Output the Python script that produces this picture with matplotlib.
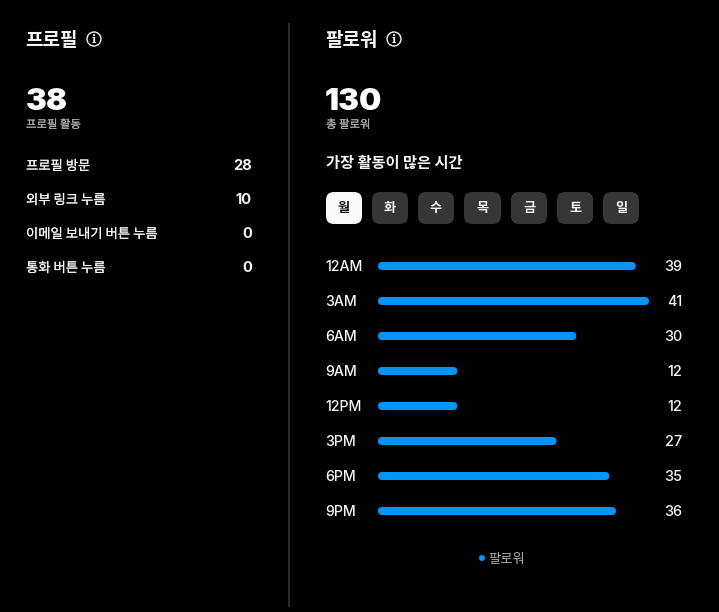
import matplotlib
matplotlib.use("Agg")
import matplotlib.pyplot as plt
import matplotlib.patheffects as pe
from matplotlib.patches import Circle, FancyBboxPatch

BG = "#000000"
TEXT = "#F5F5F5"
MUTED = "#A8A8A8"
BLUE = "#0095F6"
BTN = "#363636"
LINE = "#2A2A2A"
FONTS = ["Inter", "Noto Sans CJK KR", "DejaVu Sans"]
KR = ["Noto Sans CJK KR", "DejaVu Sans"]

W, H = 719, 612

# ----- data
profile_labels = ["프로필 방문", "외부 링크 누름", "이메일 보내기 버튼 누름", "통화 버튼 누름"]
profile_values = [28, 10, 0, 0]
profile_total = 38
follower_total = 130
days = ["월", "화", "수", "목", "금", "토", "일"]
hours = ["12AM", "3AM", "6AM", "9AM", "12PM", "3PM", "6PM", "9PM"]
followers = [39, 41, 30, 12, 12, 27, 35, 36]

plt.rcParams["font.family"] = FONTS

fig = plt.figure(figsize=(W / 100, H / 100), dpi=100, facecolor=BG)

# overlay in pixel coordinates for the text and the controls
ov = fig.add_axes([0, 0, 1, 1])
ov.set_xlim(0, W)
ov.set_ylim(H, 0)
ov.axis("off")


def info_icon(x, y):
    ov.add_patch(Circle((x, y), 7, fill=False, ec=TEXT, lw=1.0))
    ov.text(x, y + 0.3, "i", color=TEXT, fontsize=8, family="DejaVu Serif",
            fontweight="bold", ha="center", va="center")


def put(x, y, s, size, color=TEXT, weight="normal", ha="left", family=None, stroke=0):
    t = ov.text(x, y, s, fontsize=size, color=color, fontweight=weight, ha=ha,
                va="center", family=family or FONTS)
    if stroke:
        # the CJK family has no medium cut here, thicken the regular one a bit
        t.set_path_effects([pe.withStroke(linewidth=stroke, foreground=color)])


# --- left column
put(25.5, 40.5, "프로필", 13.7, weight="bold", family=KR)
info_icon(94, 39)
put(25.5, 102, str(profile_total), 22.5, color="#FFFFFF", weight="black")
put(26, 124.5, "프로필 활동", 8.2, color=MUTED, family=KR, stroke=0.12)
for i, (lab, val) in enumerate(zip(profile_labels, profile_values)):
    y = 166 + i * 34
    put(26, y, lab, 9.6, family=KR, stroke=0.12)
    put(252, y, str(val), 10.6, weight="bold", ha="right")

ov.plot([289, 289], [23, 607], color=LINE, lw=1.5, solid_capstyle="butt")

# --- right column
put(325, 40.5, "팔로워", 13.7, weight="bold", family=KR)
info_icon(394, 39)
put(325, 102, str(follower_total), 22.5, color="#FFFFFF", weight="black")
put(326, 124.5, "총 팔로워", 8.2, color=MUTED, family=KR, stroke=0.12)
put(326, 163, "가장 활동이 많은 시간", 11, weight="bold", family=KR)

# day selector
btn_left = [326, 372, 418, 464, 511, 557, 603]
btn_width = [36, 36, 36, 37, 36, 36, 36]
for k, (d, x0, bw) in enumerate(zip(days, btn_left, btn_width)):
    ov.add_patch(FancyBboxPatch((x0, 192), bw, 32, boxstyle="round,pad=0,rounding_size=8",
                                fc="#FAFAFA" if k == 0 else BTN, ec="none"))
    put(x0 + bw / 2, 208, d, 9.5, color="#111111" if k == 0 else TEXT,
        weight="bold", ha="center", family=KR)

# --- bars, on their own axes scaled in follower counts
row_px, x_left, x_right = 35, 378, 649
n = len(hours)
ax = fig.add_axes([x_left / W, 1 - (266 + (n - 0.5) * row_px) / H,
                   (x_right - x_left) / W, n * row_px / H])
ax.set_xlim(0, max(followers))
ax.set_ylim(n - 0.5, -0.5)
ax.axis("off")
ax.patch.set_alpha(0)
px_per_val = (x_right - x_left) / max(followers)
bar_h = 8 / row_px
for i, v in enumerate(followers):
    ax.add_patch(FancyBboxPatch((0, i - bar_h / 2), v, bar_h,
                                boxstyle=f"round,pad=0,rounding_size={4 / px_per_val}",
                                mutation_aspect=px_per_val / row_px, fc=BLUE, ec="none"))
    y = 267 + i * row_px
    put(325.5, y, hours[i], 10.2, weight="medium")
    put(682, y, str(v), 10.4, weight="medium", ha="right")

# legend
ov.add_patch(Circle((482, 558), 3, fc=BLUE, ec="none"))
put(488.5, 558.5, "팔로워", 9.6, color=MUTED, family=KR)

fig.savefig("out.png", dpi=100, facecolor=BG)
